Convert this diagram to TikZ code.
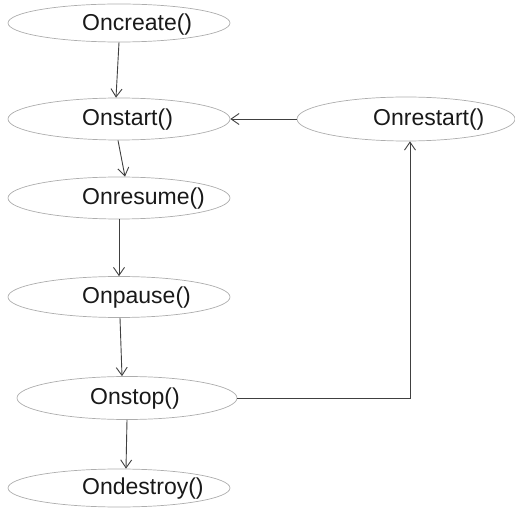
\documentclass[tikz,border=0pt]{standalone}
\usepackage{fontspec}
\setmainfont{Liberation Sans}
\usetikzlibrary{shapes.geometric,arrows.meta}
\begin{document}
\begin{tikzpicture}[x=1pt,y=-1pt,
  state/.style={ellipse,draw=black!32,line width=0.7pt,inner sep=0pt},
  lbl/.style={anchor=west,inner sep=0pt,font=\fontsize{23}{26}\selectfont,text=black!90},
  conn/.style={draw=black!75,line width=0.9pt,-{Straight Barb[length=8pt,width=11pt,line width=0.9pt]}}]
\useasboundingbox (0,0) rectangle (515,508);
\node[state,minimum width=222pt,minimum height=38pt] (create) at (119,23) {};
\node[state,minimum width=222pt,minimum height=42pt] (start) at (119,119) {};
\node[state,minimum width=218pt,minimum height=44pt] (restart) at (406,119) {};
\node[state,minimum width=222pt,minimum height=42pt] (resume) at (119,198) {};
\node[state,minimum width=222pt,minimum height=41pt] (pause) at (119,297) {};
\node[state,minimum width=220pt,minimum height=43pt] (stop) at (127,398) {};
\node[state,minimum width=222pt,minimum height=38pt] (destroy) at (119,488) {};
\node[lbl] (tcreate) at (82,25) {Oncreate()};
\node[lbl] (tstart) at (82,120) {Onstart()};
\node[lbl] (trestart) at (373,120) {Onrestart()};
\node[lbl] (tresume) at (82,199) {Onresume()};
\node[lbl] (tpause) at (82,298) {Onpause()};
\node[lbl] (tstop) at (90,399) {Onstop()};
\node[lbl] (tdestroy) at (82,489) {Ondestroy()};
\draw[conn] (create.south) -- ([xshift=-3pt]start.north);
\draw[conn] ([xshift=-1pt]start.south) -- ([xshift=6pt]resume.north);
\draw[conn] (resume.south) -- (pause.north);
\draw[conn] ([xshift=1pt]pause.south) -- ([xshift=-5pt]stop.north);
\draw[conn] (stop.south) -- ([xshift=7pt]destroy.north);
\draw[conn] (restart.west) -- (start.east);
\draw[conn] (stop.east) -| ([xshift=4pt]restart.south);
\end{tikzpicture}
\end{document}
